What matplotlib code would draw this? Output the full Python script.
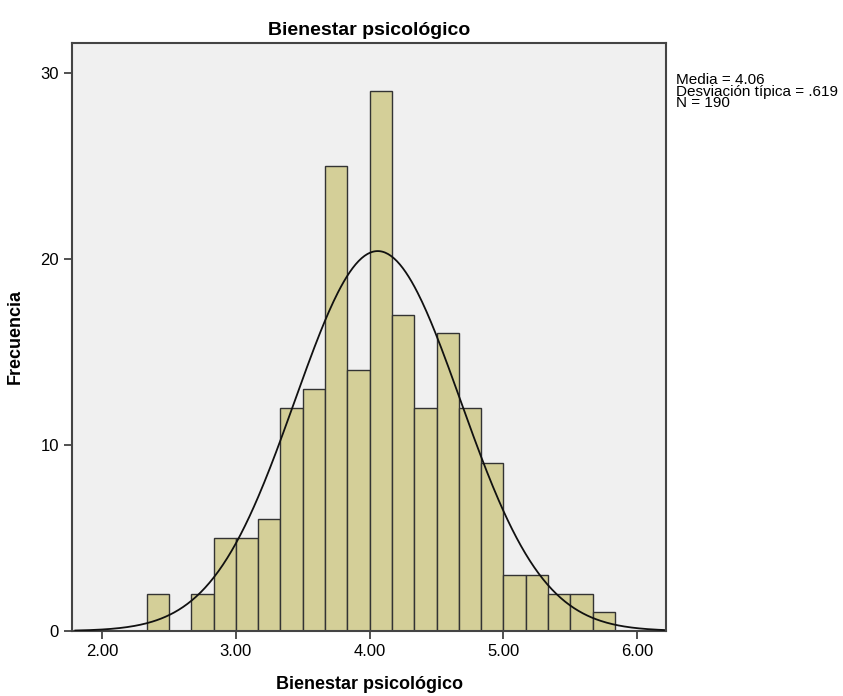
import numpy as np
import matplotlib.pyplot as plt

plt.rcParams['font.family'] = ['Liberation Sans', 'DejaVu Sans']

# Histogram data (bin width 1/6)
bin_edges = np.round(np.arange(14, 36) / 6.0, 4)  # 2.333 .. 5.833
counts = [2, 0, 2, 5, 5, 6, 12, 13, 25, 14, 29, 17, 12, 16, 12, 9, 3, 3, 2, 2, 1]
mean_val = 4.06
std_val = 0.619
n_val = 190
x_ticks = [2.0, 3.0, 4.0, 5.0, 6.0]
y_ticks = [0, 10, 20, 30]

fig = plt.figure(figsize=(8.43, 6.96), dpi=100)
ax = fig.add_axes([0.0854, 0.0934, 0.705, 0.845])
ax.set_facecolor('#F0F0F0')

widths = np.diff(bin_edges)
ax.bar(bin_edges[:-1], counts, width=widths, align='edge',
       color='#D4CF98', edgecolor='#333333', linewidth=1.0, zorder=2)

# Normal curve scaled to counts
bw = widths[0]
xs = np.linspace(1.8, 6.2, 400)
ys = n_val * bw * np.exp(-0.5 * ((xs - mean_val) / std_val) ** 2) / (std_val * np.sqrt(2 * np.pi))
ax.plot(xs, ys, color='#111111', linewidth=1.3, zorder=3)

ax.set_xlim(1.775, 6.217)
ax.set_ylim(0, 31.6)
ax.set_xticks(x_ticks)
ax.set_xticklabels([f'{t:.2f}' for t in x_ticks])
ax.set_yticks(y_ticks)
ax.tick_params(axis='both', labelsize=12, length=6, width=1.2, color='#333333')

for side in ['top', 'right', 'bottom', 'left']:
    ax.spines[side].set_color('#444444')
    ax.spines[side].set_linewidth(1.5)

ax.set_title('Bienestar psicológico', fontsize=14, fontweight='bold', pad=6)
ax.set_xlabel('Bienestar psicológico', fontsize=13, fontweight='bold', labelpad=12)
ax.set_ylabel('Frecuencia', fontsize=13, fontweight='bold', labelpad=12)

fig.text(0.802, 0.895,
         f'Media = {mean_val:.2f}\nDesviación típica = .{int(round(std_val*1000))}\nN = {n_val}',
         fontsize=11, va='top', ha='left', linespacing=0.78)

fig.savefig('out.png', dpi=100)
